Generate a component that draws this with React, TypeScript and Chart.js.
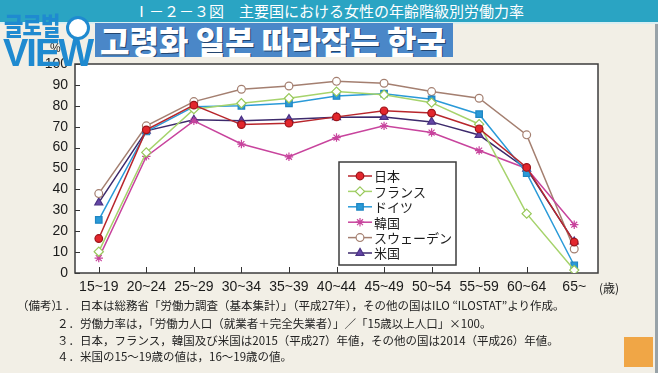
import React, { useEffect, useRef } from 'react';
import { Chart, registerables } from 'chart.js';

Chart.register(...registerables);

const categories = ['15~19', '20~24', '25~29', '30~34', '35~39', '40~44', '45~49', '50~54', '55~59', '60~64', '65~'];
const yTicks = [0, 10, 20, 30, 40, 50, 60, 70, 80, 90, 100];

const japan = [16.5, 68.5, 80.3, 71.0, 71.7, 74.7, 77.6, 76.5, 69.0, 50.5, 14.8];
const france = [10.2, 57.7, 78.4, 81.2, 83.6, 86.8, 85.3, 81.5, 71.2, 28.4, 1.4];
const germany = [25.4, 67.7, 79.6, 80.0, 81.2, 84.7, 85.8, 83.1, 76.0, 47.8, 3.6];
const korea = [7.1, 55.8, 72.8, 61.7, 55.6, 64.8, 70.4, 67.2, 58.6, 50.0, 23.1];
const sweden = [38.0, 70.4, 82.0, 87.9, 89.5, 91.7, 90.8, 86.8, 83.6, 66.1, 11.5];
const usa = [33.7, 68.0, 73.3, 72.8, 73.6, 74.5, 74.6, 72.3, 66.0, 49.8, 15.0];

const seriesNames = ['日本', 'フランス', 'ドイツ', '韓国', 'スウェーデン', '米国'];

const notes = [
  '日本は総務省「労働力調査（基本集計）」（平成27年），その他の国はILO “ILOSTAT”より作成。',
  '労働力率は，「労働力人口（就業者＋完全失業者）」／「15歳以上人口」×100。',
  '日本，フランス，韓国及び米国は2015（平成27）年値，その他の国は2014（平成26）年値。',
  '米国の15～19歳の値は，16～19歳の値。',
];

function drawMarker(ctx: CanvasRenderingContext2D, style: string, x: number, y: number, r: number, fill: string, stroke: string, bw: number) {
  ctx.save();
  ctx.fillStyle = fill;
  ctx.strokeStyle = stroke;
  ctx.lineWidth = bw;
  ctx.beginPath();
  if (style === 'circle') {
    ctx.arc(x, y, r, 0, Math.PI * 2);
    ctx.fill();
    ctx.stroke();
  } else if (style === 'rect') {
    const s = r * Math.SQRT1_2;
    ctx.rect(x - s, y - s, 2 * s, 2 * s);
    ctx.fill();
    ctx.stroke();
  } else if (style === 'rectRot') {
    ctx.moveTo(x, y - r);
    ctx.lineTo(x + r, y);
    ctx.lineTo(x, y + r);
    ctx.lineTo(x - r, y);
    ctx.closePath();
    ctx.fill();
    ctx.stroke();
  } else if (style === 'triangle') {
    const a = (Math.PI * 2) / 3;
    ctx.moveTo(x, y - r);
    ctx.lineTo(x + Math.sin(a) * r, y - Math.cos(a) * r);
    ctx.lineTo(x - Math.sin(a) * r, y - Math.cos(a) * r);
    ctx.closePath();
    ctx.fill();
    ctx.stroke();
  } else if (style === 'star') {
    for (let k = 0; k < 4; k++) {
      const ang = (k * Math.PI) / 4;
      ctx.moveTo(x + Math.cos(ang) * r, y + Math.sin(ang) * r);
      ctx.lineTo(x - Math.cos(ang) * r, y - Math.sin(ang) * r);
    }
    ctx.stroke();
  }
  ctx.restore();
}

const framePlugin = {
  id: 'frameAndTicks',
  beforeDraw(chart: any) {
    const { ctx, chartArea: a } = chart;
    ctx.save();
    ctx.fillStyle = '#ffffff';
    ctx.fillRect(a.left, a.top, a.right - a.left, a.bottom - a.top);
    ctx.restore();
  },
  beforeDatasetsDraw(chart: any) {
    const { ctx, chartArea: a, scales } = chart;
    const xs = scales.x;
    const ys = scales.y;
    ctx.save();
    ctx.strokeStyle = '#333333';
    ctx.lineWidth = 1;
    ctx.beginPath();
    yTicks.forEach((v) => {
      const py = Math.round(ys.getPixelForValue(v)) + 0.5;
      ctx.moveTo(a.left, py);
      ctx.lineTo(a.left + 5, py);
    });
    categories.forEach((_c, i) => {
      const px = Math.round(xs.getPixelForValue(i)) + 0.5;
      ctx.moveTo(px, a.bottom);
      ctx.lineTo(px, a.bottom - 6);
    });
    ctx.stroke();
    ctx.lineWidth = 1.5;
    ctx.strokeStyle = '#3c3c3c';
    ctx.strokeRect(a.left, a.top, a.right - a.left, a.bottom - a.top);
    ctx.restore();
  },
  afterDatasetsDraw(chart: any) {
    const { ctx, chartArea: a } = chart;
    const bx = a.left + 264;
    const by = a.top + 98;
    const bw = 117;
    const bh = 103;
    ctx.save();
    ctx.fillStyle = '#ffffff';
    ctx.fillRect(bx, by, bw, bh);
    ctx.strokeStyle = '#3c3c3c';
    ctx.lineWidth = 1.5;
    ctx.strokeRect(bx, by, bw, bh);
    chart.data.datasets.forEach((ds: any, i: number) => {
      const ry = by + 14 + i * 15.4;
      ctx.strokeStyle = ds.borderColor;
      ctx.lineWidth = ds.borderWidth;
      ctx.beginPath();
      ctx.moveTo(bx + 9, ry);
      ctx.lineTo(bx + 33, ry);
      ctx.stroke();
      drawMarker(ctx, ds.pointStyle, bx + 21, ry, ds.pointRadius, ds.pointBackgroundColor, ds.pointBorderColor, ds.pointBorderWidth);
      ctx.fillStyle = '#1e1e1e';
      ctx.font = '13px "Noto Sans CJK JP", sans-serif';
      ctx.textBaseline = 'middle';
      ctx.textAlign = 'left';
      ctx.fillText(ds.label, bx + 35, ry + 0.5);
    });
    ctx.restore();
  },
  afterDraw(chart: any) {
    const { ctx, chartArea: a } = chart;
    ctx.save();
    ctx.fillStyle = '#1e1e1e';
    ctx.font = '12px "Noto Sans CJK JP", sans-serif';
    ctx.textBaseline = 'middle';
    ctx.textAlign = 'left';
    ctx.fillText('(歳)', a.right + 1, 288);
    ctx.font = '12px "Liberation Sans", Arial, sans-serif';
    ctx.fillText('%', 50, 49);
    ctx.restore();
  },
};

function makeDataset(label: string, data: number[], line: string, style: string, radius: number, fill: string, border: string) {
  return {
    label,
    data,
    borderColor: line,
    backgroundColor: line,
    borderWidth: 1.5,
    pointStyle: style,
    pointRadius: radius,
    pointHoverRadius: radius,
    pointBackgroundColor: fill,
    pointBorderColor: border,
    pointBorderWidth: 1.2,
    tension: 0,
    fill: false,
  };
}

export default function App() {
  const ref = useRef<HTMLCanvasElement | null>(null);

  useEffect(() => {
    if (!ref.current) return;
    const tickFont = { family: '"Liberation Sans", Arial, sans-serif', size: 14 };
    const chart = new Chart(ref.current, {
      type: 'line',
      data: {
        labels: categories,
        datasets: [
          makeDataset(seriesNames[0], japan, '#b8262c', 'circle', 3.8, '#e3262d', '#9c1419'),
          makeDataset(seriesNames[1], france, '#a6d36c', 'rectRot', 4.6, '#ffffff', '#98c85a'),
          makeDataset(seriesNames[2], germany, '#2a9ad8', 'rect', 4.6, '#2a9ad8', '#1f86c2'),
          makeDataset(seriesNames[3], korea, '#c8449d', 'star', 4.2, '#c8449d', '#c8449d'),
          makeDataset(seriesNames[4], sweden, '#a47f70', 'circle', 3.9, '#ffffff', '#a47f70'),
          makeDataset(seriesNames[5], usa, '#3d2a6c', 'triangle', 4.6, '#6546a6', '#4a3284'),
        ] as any,
      },
      options: {
        responsive: false,
        animation: false,
        devicePixelRatio: 1,
        layout: { padding: { left: 0, top: 64, right: 60, bottom: 0 } },
        plugins: {
          legend: { display: false },
          tooltip: { enabled: false },
          title: { display: false },
        },
        scales: {
          x: {
            type: 'category',
            offset: true,
            grid: { display: false, drawTicks: false },
            border: { display: false },
            ticks: { font: tickFont, color: '#1a1a1a', padding: 6, maxRotation: 0, autoSkip: false },
            afterFit: (s: any) => {
              s.height = 100;
            },
          },
          y: {
            min: 0,
            max: 100,
            grid: { display: false, drawTicks: false },
            border: { display: false },
            ticks: { stepSize: 10, font: tickFont, color: '#1a1a1a', padding: 7 },
            afterFit: (s: any) => {
              s.width = 75;
            },
          },
        },
      } as any,
      plugins: [framePlugin],
    });
    return () => chart.destroy();
  }, []);

  const noteStyle: React.CSSProperties = {
    position: 'absolute',
    fontSize: 11.5,
    lineHeight: '14px',
    color: '#222',
    whiteSpace: 'nowrap',
    fontFamily: '"Noto Sans CJK JP", sans-serif',
  };
  const noteTops = [298, 316, 332.5, 349];
  const noteNums = ['１．', '２．', '３．', '４．'];

  return (
    <div
      style={{
        position: 'absolute',
        left: 0,
        top: 0,
        width: 658,
        height: 373,
        overflow: 'hidden',
        background: '#f2efe6',
        fontFamily: '"Noto Sans CJK JP", sans-serif',
      }}
    >
      <canvas ref={ref} width={658} height={373} style={{ position: 'absolute', left: 0, top: 0, width: 658, height: 373 }} />

      <div
        style={{
          position: 'absolute',
          left: 0,
          top: 0,
          width: 658,
          height: 22,
          background: '#2aa4c3',
          color: '#ffffff',
          fontSize: 15,
          lineHeight: '22px',
          textAlign: 'center',
          whiteSpace: 'nowrap',
          fontFamily: '"Noto Sans CJK JP", sans-serif',
        }}
      >
        Ⅰ－２－３図　主要国における女性の年齢階級別労働力率
      </div>
      <div style={{ position: 'absolute', left: 0, top: 22, width: 658, height: 2, background: '#d9eef2' }} />

      <div
        style={{
          position: 'absolute',
          left: 95,
          top: 23,
          width: 358,
          height: 34,
          background: '#4a87c8',
          color: '#ffffff',
          fontSize: 32,
          fontWeight: 900,
          lineHeight: '34px',
          paddingLeft: 5,
          boxSizing: 'border-box',
          whiteSpace: 'nowrap',
          overflow: 'hidden',
          fontFamily: '"Noto Sans CJK KR", sans-serif',
          textShadow: '1px 1px 0 #23456f',
          letterSpacing: 0,
        }}
      >
        고령화 일본 따라잡는 한국
      </div>

      <div
        style={{
          position: 'absolute',
          left: 4,
          top: 9,
          color: '#1f8ad0',
          fontSize: 25,
          fontWeight: 900,
          lineHeight: '30px',
          whiteSpace: 'nowrap',
          fontFamily: '"Noto Sans CJK KR", sans-serif',
          transform: 'scaleX(0.84)',
          transformOrigin: 'left top',
          letterSpacing: -1,
        }}
      >
        글로벌
      </div>
      <div
        style={{
          position: 'absolute',
          left: 66,
          top: 16,
          width: 18,
          height: 18,
          borderRadius: '50%',
          border: '3px solid #1f8ad0',
          background: '#ffffff',
        }}
      />
      <div
        style={{
          position: 'absolute',
          left: 3,
          top: 34,
          color: '#1f8ad0',
          fontSize: 38,
          fontWeight: 700,
          lineHeight: '38px',
          whiteSpace: 'nowrap',
          fontFamily: '"Liberation Sans", Arial, sans-serif',
          letterSpacing: -2,
        }}
      >
        VIEW
      </div>

      <div style={{ ...noteStyle, left: 17, top: noteTops[0] }}>（備考）</div>
      {notes.map((t, i) => (
        <React.Fragment key={i}>
          <div style={{ ...noteStyle, left: i === 0 ? 53 : 57, top: noteTops[i] }}>{noteNums[i]}</div>
          <div style={{ ...noteStyle, left: 80, top: noteTops[i] }}>{t}</div>
        </React.Fragment>
      ))}

      <div style={{ position: 'absolute', left: 624, top: 337, width: 29, height: 30, background: '#f0a646' }} />
      <div style={{ position: 'absolute', left: 655, top: 24, width: 3, height: 349, background: '#98a2a8' }} />
    </div>
  );
}
